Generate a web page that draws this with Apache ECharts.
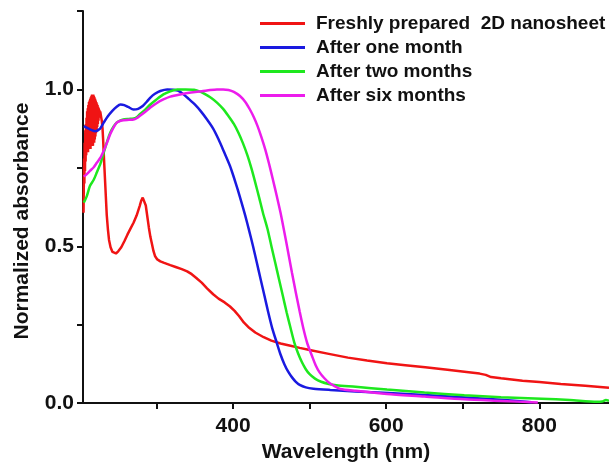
<!DOCTYPE html>
<html>
<head>
<meta charset="utf-8">
<script src="https://cdn.jsdelivr.net/npm/echarts@6/dist/echarts.min.js"></script>
<style>
  html, body { margin: 0; padding: 0; background: #fff; }
  #chart { width: 609px; height: 468px; }
</style>
</head>
<body>
<div id="chart"></div>
<script>
// Series names (legend order)
const seriesNames = [
  'Freshly prepared  2D nanosheet',
  'After one month',
  'After two months',
  'After six months'
];

// Axis ticks and labels
const xTickValues = [300, 400, 500, 600, 700, 800];
const xLabelValues = [400, 600, 800];
const yTickValues = [0, 0.25, 0.5, 0.75, 1.0, 1.25];
const yLabelValues = [0, 0.5, 1.0];

// Spectra: [wavelength (nm), normalized absorbance]
// The fresh sample is noisy below ~226 nm.
const freshData = [
  [204.7,0.607],[205.0,0.68],[205.4,0.78],[205.8,0.70],[206.2,0.83],[206.6,0.74],[207.0,0.87],
  [207.4,0.77],[207.8,0.89],[208.2,0.79],[208.6,0.91],[209.0,0.80],[209.4,0.93],[209.8,0.81],
  [210.2,0.94],[210.6,0.80],[211.0,0.95],[211.4,0.82],[211.8,0.96],[212.2,0.81],[212.6,0.965],
  [213.0,0.82],[213.4,0.97],[213.8,0.81],[214.2,0.975],[214.6,0.83],[215.0,0.98],[215.4,0.82],
  [215.8,0.984],[216.2,0.83],[216.6,0.98],[217.0,0.82],[217.4,0.984],[217.8,0.84],[218.2,0.98],
  [218.6,0.83],[219.0,0.975],[219.4,0.84],[219.8,0.97],[220.2,0.85],[220.6,0.965],[221.0,0.86],
  [221.4,0.96],[221.8,0.87],[222.2,0.955],[222.6,0.88],[223.0,0.95],[223.4,0.89],[223.8,0.945],
  [224.2,0.90],[224.6,0.94],[225.0,0.91],[225.4,0.935],[225.8,0.92],[226.5,0.93],[227.5,0.915],
  [228.5,0.90],[229.5,0.875],[230.3,0.84],[231,0.80],[232,0.75],[233,0.70],[234,0.65],[235,0.60],
  [236.5,0.555],[238,0.52],[240,0.497],[242.5,0.482],[245,0.476],[247,0.477],[250,0.484],
  [254,0.497],[258,0.516],[262,0.537],[266,0.556],[270,0.575],[274,0.598],[278,0.628],
  [280,0.645],[282,0.655],[284,0.653],[286,0.630],[288,0.595],[290,0.560],[292,0.530],
  [294,0.508],[296,0.485],[298,0.469],[301,0.458],[305,0.452],[310,0.447],[318,0.440],
  [325,0.434],[333,0.427],[340,0.420],[346,0.411],[352,0.399],[359,0.384],[366,0.366],
  [374,0.347],[381,0.333],[389,0.321],[396,0.308],[402,0.294],[408,0.277],[414,0.257],
  [421,0.240],[429,0.225],[440,0.210],[450,0.199],[462,0.190],[475,0.183],[487,0.176],
  [500,0.169],[525,0.157],[550,0.145],[575,0.136],[601,0.127],[625,0.121],[651,0.114],
  [680,0.106],[705,0.099],[722,0.094],[730,0.090],[737,0.083],[750,0.079],[778,0.071],
  [800,0.067],[828,0.061],[860,0.055],[891,0.049]
];

const oneMonthData = [
  [205,0.883],[212,0.874],[220,0.867],[226,0.874],[231,0.894],[236,0.913],[242,0.931],
  [248,0.945],[253,0.952],[258,0.950],[263,0.944],[270,0.936],[276,0.938],[282,0.947],
  [287,0.960],[292,0.974],[298,0.986],[305,0.995],[314,1.0],[322,0.999],[328,0.996],
  [335,0.985],[342,0.970],[350,0.952],[358,0.930],[366,0.904],[374,0.875],[381,0.841],
  [388,0.802],[396,0.756],[401,0.720],[406,0.681],[411,0.640],[416,0.597],[421,0.550],
  [426,0.501],[431,0.448],[436,0.395],[441,0.342],[446,0.289],[451,0.240],[457,0.193],
  [462,0.155],[467,0.124],[472,0.100],[477,0.082],[482,0.068],[487,0.058],[495,0.050],
  [505,0.046],[527,0.042],[560,0.037],[603,0.032],[650,0.026],[704,0.018],[755,0.010],
  [790,0.003]
];

const twoMonthData = [
  [205,0.639],[209,0.660],[213,0.692],[218,0.712],[222,0.735],[227,0.765],[231,0.798],
  [235,0.830],[239.5,0.862],[244,0.882],[248,0.894],[253,0.901],[258,0.905],[264,0.906],
  [270,0.907],[274,0.911],[278,0.920],[285,0.935],[292,0.952],[300,0.968],[309,0.984],
  [318,0.994],[327,1.0],[338,1.0],[349,0.999],[357,0.993],[364,0.984],[372,0.972],
  [379,0.958],[387,0.938],[394,0.915],[401,0.890],[407,0.862],[413,0.828],[419,0.788],
  [424,0.748],[429,0.703],[434,0.656],[439,0.607],[445,0.555],[450,0.501],[455,0.448],
  [460,0.395],[465,0.342],[470,0.289],[475,0.240],[480,0.193],[485,0.158],[490,0.130],
  [495,0.108],[500,0.092],[507,0.078],[515,0.068],[525,0.061],[535,0.057],[560,0.052],
  [601,0.043],[650,0.034],[702,0.025],[750,0.019],[803,0.014],[840,0.010],[875,0.004],
  [882,0.005],[887,0.010],[891,0.007]
];

const sixMonthData = [
  [205,0.722],[209,0.730],[213,0.740],[218,0.752],[222,0.766],[227,0.783],[231,0.804],
  [235,0.828],[239.5,0.857],[244,0.879],[248,0.894],[253,0.900],[257,0.902],[264,0.903],
  [270,0.904],[274,0.908],[278,0.915],[285,0.928],[292,0.942],[300,0.956],[309,0.968],
  [318,0.977],[331,0.984],[345,0.990],[359,0.994],[370,0.998],[379,1.0],[387,1.0],
  [394,0.998],[401,0.992],[409,0.979],[416,0.960],[422,0.936],[427,0.912],[432,0.883],
  [437,0.848],[442,0.809],[447,0.763],[452,0.713],[457,0.661],[462,0.607],[467,0.545],
  [472,0.480],[477,0.415],[482,0.352],[487,0.292],[492,0.236],[497,0.190],[503,0.151],
  [508,0.120],[513,0.098],[519,0.080],[525,0.066],[532,0.055],[540,0.045],[560,0.039],
  [601,0.029],[650,0.021],[702,0.012],[750,0.007],[798,0.002]
];

const seriesColors = ['#f01414', '#1a1ae0', '#1ee81e', '#ec1cec'];
const seriesData = [freshData, oneMonthData, twoMonthData, sixMonthData];

const FONT = '"Liberation Sans", Arial, sans-serif';

const chart = echarts.init(document.getElementById('chart'), null, { renderer: 'canvas' });

chart.setOption({
  animation: false,
  backgroundColor: '#ffffff',
  grid: { left: 83, right: 0, top: 11, bottom: 64 },
  legend: {
    orient: 'vertical',
    left: 260,
    top: 14,
    padding: 0,
    itemWidth: 45,
    itemHeight: 3,
    itemGap: 5,
    icon: 'rect',
    data: seriesNames,
    textStyle: {
      fontFamily: FONT,
      fontWeight: 'bold',
      fontSize: 19,
      lineHeight: 19,
      color: '#111',
      padding: [0, 0, 0, 6]
    }
  },
  xAxis: {
    type: 'value',
    min: 204,
    max: 891,
    name: 'Wavelength (nm)',
    nameLocation: 'middle',
    nameGap: 38,
    nameTextStyle: { fontFamily: FONT, fontWeight: 'bold', fontSize: 21, color: '#111' },
    axisLine: { show: true, onZero: false, lineStyle: { color: '#111', width: 2 } },
    axisTick: { show: true, inside: false, length: 6, customValues: xTickValues, lineStyle: { color: '#111', width: 2 } },
    axisLabel: { customValues: xLabelValues, margin: 13, fontFamily: FONT, fontWeight: 'bold', fontSize: 21, color: '#111' },
    splitLine: { show: false }
  },
  yAxis: {
    type: 'value',
    min: 0,
    max: 1.25,
    interval: 0.25,
    name: 'Normalized absorbance',
    nameLocation: 'middle',
    nameGap: 50,
    nameTextStyle: { fontFamily: FONT, fontWeight: 'bold', fontSize: 21, color: '#111', padding: [0, 28, 0, 0] },
    axisLine: { show: true, onZero: false, lineStyle: { color: '#111', width: 2 } },
    axisTick: { show: true, inside: false, length: 6, customValues: yTickValues, lineStyle: { color: '#111', width: 2 } },
    axisLabel: {
      customValues: yLabelValues,
      margin: 9,
      fontFamily: FONT, fontWeight: 'bold', fontSize: 21, color: '#111',
      formatter: v => v.toFixed(1)
    },
    splitLine: { show: false }
  },
  series: seriesNames.map((name, i) => ({
    name,
    type: 'line',
    data: seriesData[i],
    showSymbol: false,
    symbol: 'none',
    smooth: i === 0 ? false : 0.25,
    clip: true,
    color: seriesColors[i],
    lineStyle: { color: seriesColors[i], width: 2.5 }
  }))
});
</script>
</body>
</html>
